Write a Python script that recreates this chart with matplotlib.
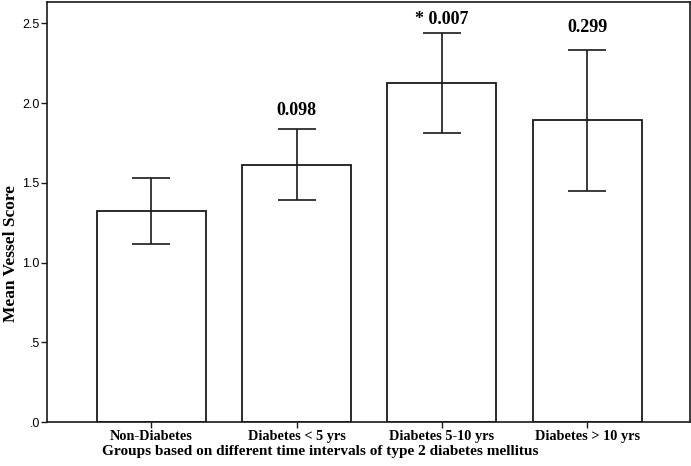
import numpy as np
import matplotlib
matplotlib.use('Agg')
import matplotlib.pyplot as plt

groups = ['Non-Diabetes', 'Diabetes < 5 yrs', 'Diabetes 5-10 yrs', 'Diabetes > 10 yrs']
means = [1.323, 1.614, 2.127, 1.893]
ci_low = [1.117, 1.392, 1.812, 1.447]
ci_high = [1.532, 1.835, 2.440, 2.336]
p_labels = ['', '0.098', '* 0.007', '0.299']

yticks = [0.0, 0.5, 1.0, 1.5, 2.0, 2.5]
ytick_labels = ['.0', '.5', '1.0', '1.5', '2.0', '2.5']

ink = '#1a1a1a'
serif = 'Liberation Serif'
sans = 'Liberation Sans'

fig = plt.figure(figsize=(6.91, 4.66), dpi=100)
ax = fig.add_axes([0.0676, 0.0944, 0.9315, 0.902])

x = np.arange(len(groups))
means = np.array(means)
yerr = np.vstack([means - np.array(ci_low), np.array(ci_high) - means])

ax.bar(x, means, width=0.75, color='white', edgecolor=ink, linewidth=1.3, zorder=2)
ax.errorbar(x, means, yerr=yerr, fmt='none', ecolor=ink, elinewidth=1.2,
            capsize=14, capthick=1.2, zorder=3)

# p-value labels above the upper caps (gaps differ a little in the original)
offsets = [0, 7.5, 3.5, 9.5]
for xi, hi, lab, off in zip(x, ci_high, p_labels, offsets):
    if lab:
        ax.annotate(lab, (xi, hi), xytext=(0, off), textcoords='offset points',
                    ha='center', va='bottom', fontsize=13, fontweight='bold',
                    family=serif, color='black')

ax.set_xlim(-0.72, 3.71)
ax.set_ylim(0, 2.636)
ax.set_yticks(yticks)
ax.set_yticklabels(ytick_labels, family=sans, fontsize=9)
ax.set_xticks(x)
ax.set_xticklabels(groups, family=serif, fontweight='bold', fontsize=10.3)
ax.tick_params(axis='both', direction='out', length=4, width=1, color=ink)
ax.tick_params(axis='x', pad=2)
ax.tick_params(axis='y', pad=1)

for s in ax.spines.values():
    s.set_color(ink)
    s.set_linewidth(1.2)

ax.set_xlabel('Groups based on different time intervals of type 2 diabetes mellitus',
              family=serif, fontweight='bold', fontsize=11, labelpad=1)
ax.xaxis.set_label_coords(0.425, -0.055)
ax.set_ylabel('Mean Vessel Score', family=serif, fontweight='bold', fontsize=12.5)
ax.yaxis.set_label_coords(-0.043, 0.40)

plt.savefig('out.png', dpi=100)
